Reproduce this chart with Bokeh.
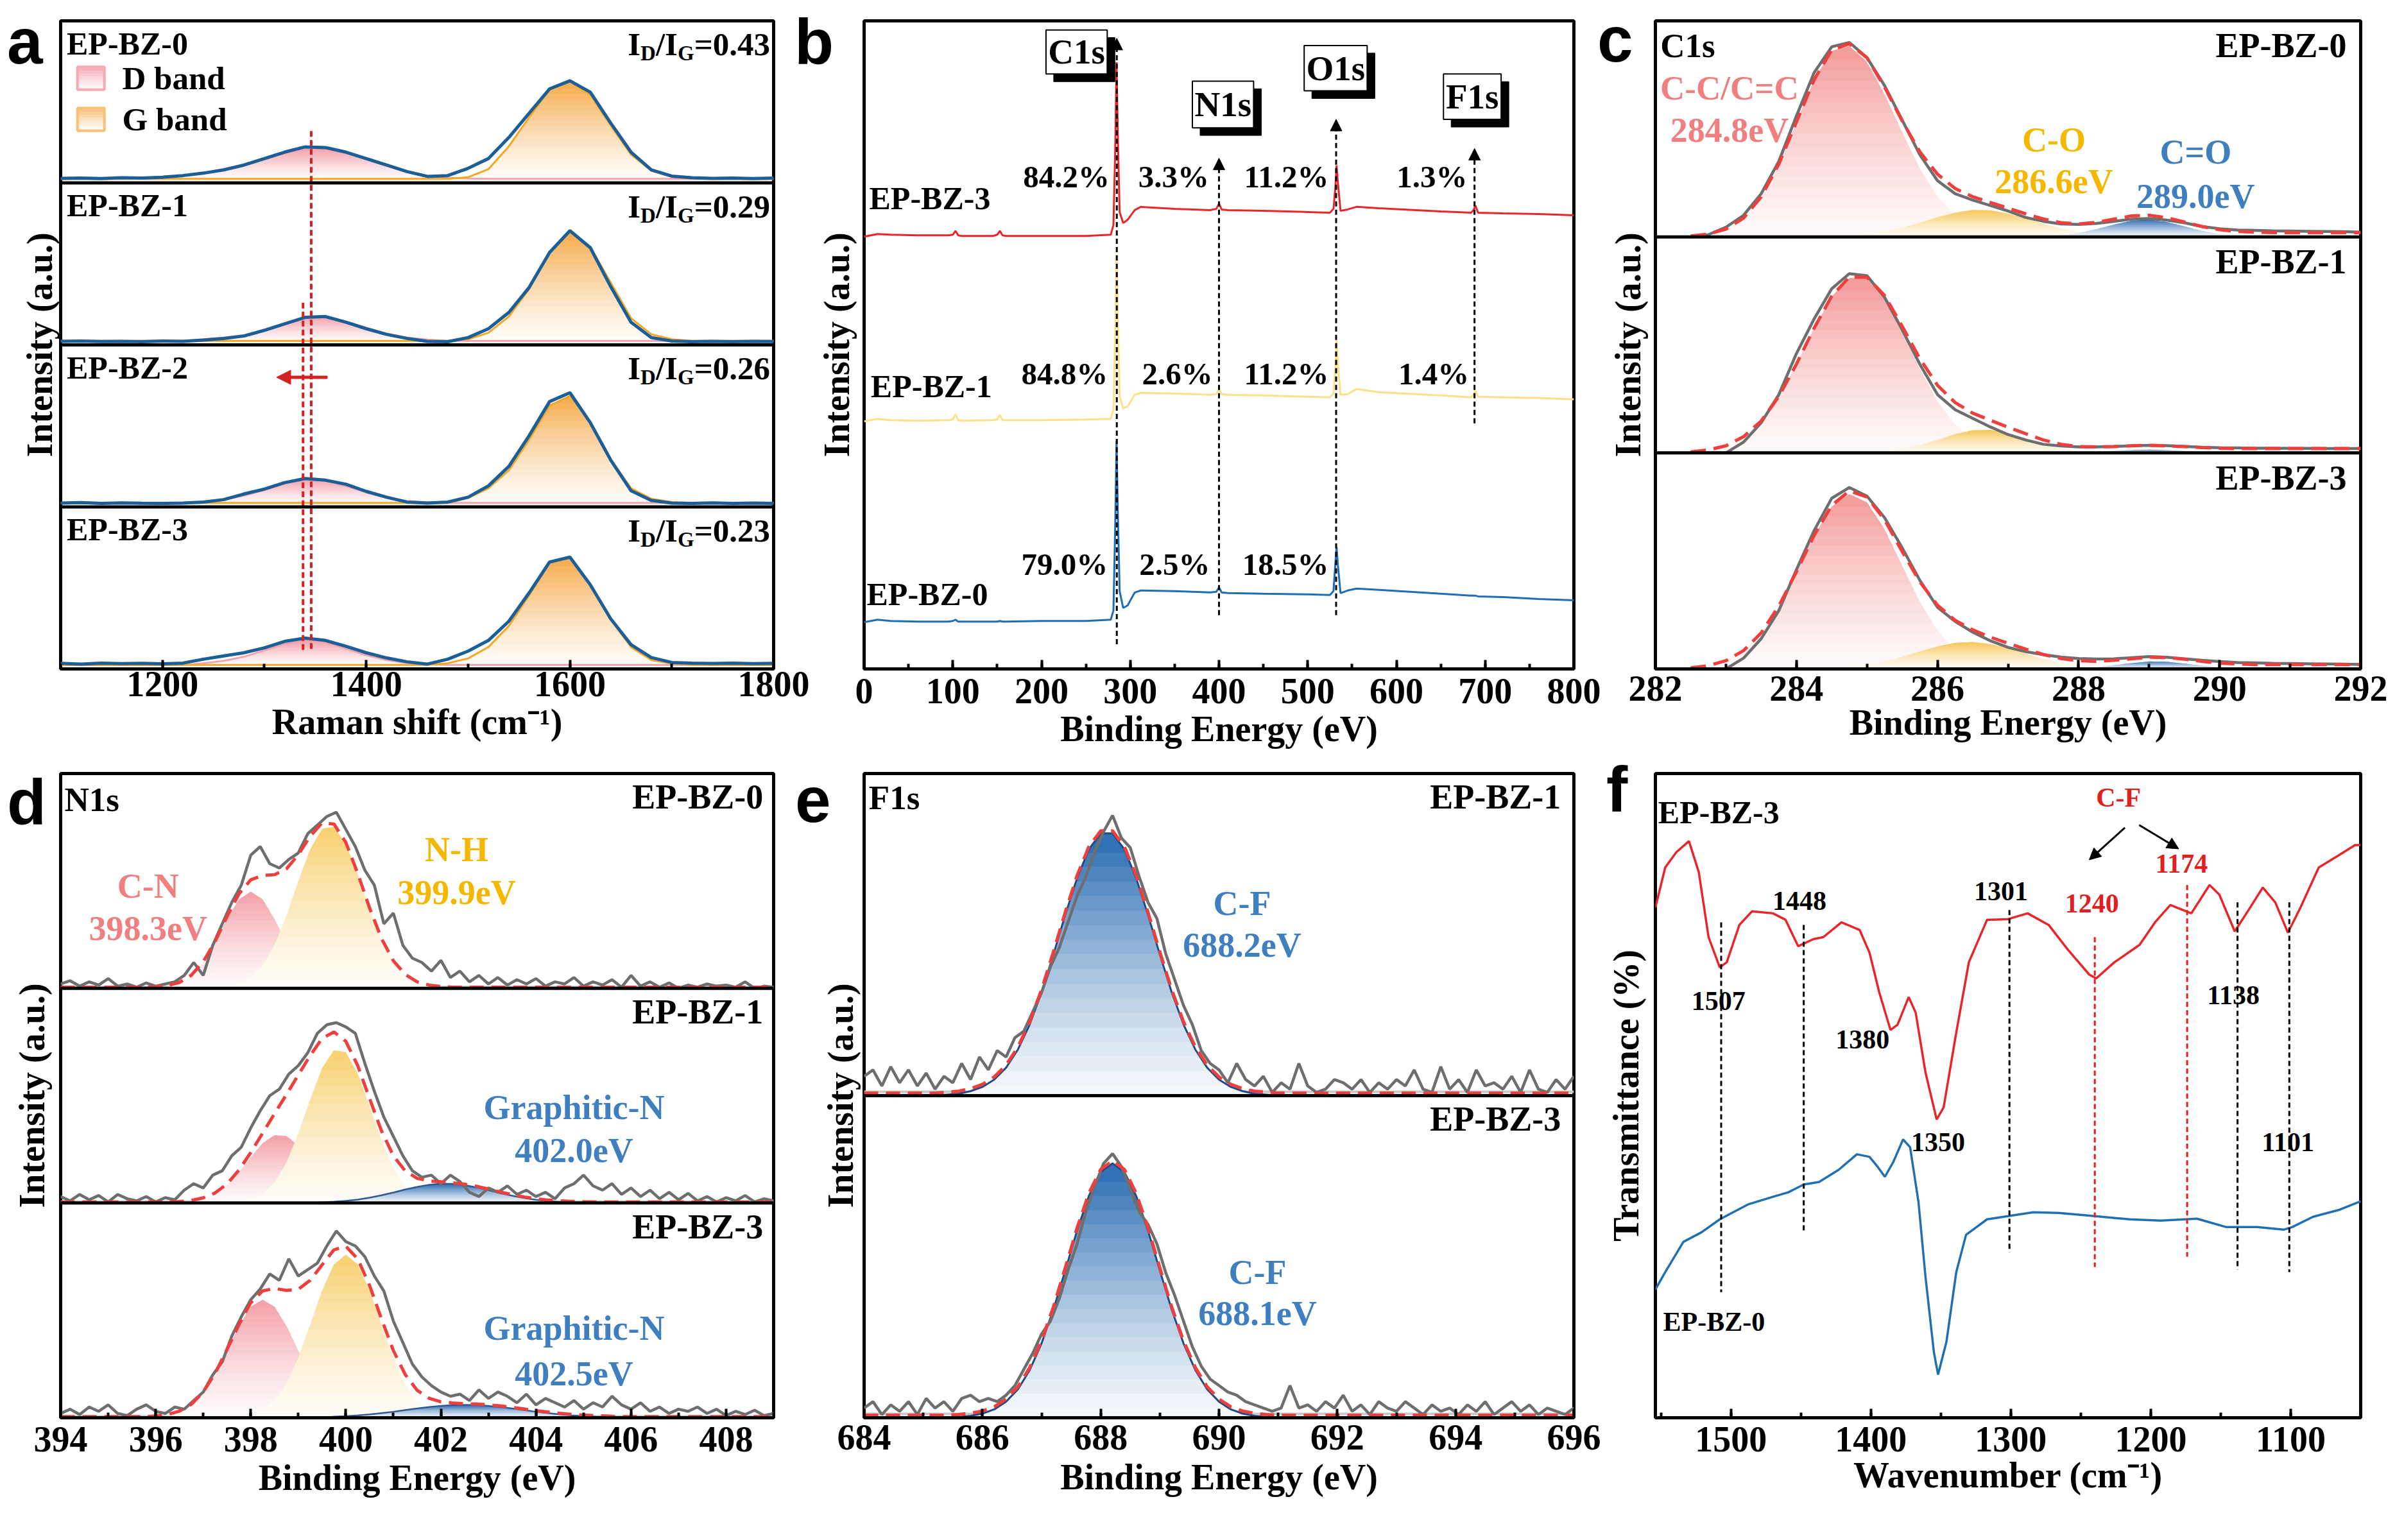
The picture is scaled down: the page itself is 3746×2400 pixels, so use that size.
import numpy as np
from bokeh.plotting import figure
from bokeh.models import (Range1d, Label, Arrow, NormalHead, Div, GridBox,
                          SingleIntervalTicker, FixedTicker, Span)
from bokeh.embed import file_html
from bokeh.resources import INLINE

SERIF = "Liberation Serif"
SANS = "Liberation Sans"

# ======================= DATA =======================
# (a) Raman spectra, each normalised to its stacked sub-panel (0..1)
RA_X = list(range(1100, 1801, 20))
RA_NAMES = ["EP-BZ-0", "EP-BZ-1", "EP-BZ-2", "EP-BZ-3"]
RA_RATIO = [0.43, 0.29, 0.26, 0.23]
RA_OBS0 = [0.028, 0.030, 0.027, 0.032, 0.030, 0.035, 0.045, 0.060, 0.080, 0.110,
           0.150, 0.190, 0.222, 0.218, 0.190, 0.150, 0.110, 0.070, 0.040, 0.045,
           0.090, 0.150, 0.280, 0.430, 0.580, 0.630, 0.560, 0.370, 0.190, 0.080,
           0.042, 0.032, 0.028, 0.030, 0.027, 0.030]
RA_D0 = [0, 0, 0, 0.002, 0.005, 0.010, 0.020, 0.035, 0.055, 0.085, 0.120, 0.160, 0.190,
         0.185, 0.160, 0.120, 0.080, 0.045, 0.020, 0.008, 0.002] + [0] * 15
RA_G0 = [0] * 20 + [0.010, 0.060, 0.200, 0.380, 0.550, 0.600, 0.520, 0.330, 0.150, 0.050,
                    0.012, 0.003] + [0] * 4
RA_OBS1 = [0.022, 0.024, 0.021, 0.022, 0.020, 0.024, 0.022, 0.030, 0.040, 0.055,
           0.090, 0.130, 0.170, 0.175, 0.140, 0.100, 0.065, 0.040, 0.022, 0.020,
           0.045, 0.100, 0.200, 0.355, 0.570, 0.705, 0.600, 0.360, 0.140, 0.045,
           0.024, 0.020, 0.022, 0.020, 0.022, 0.021]
RA_D1 = [0] * 7 + [0.010, 0.020, 0.035, 0.065, 0.105, 0.145, 0.150, 0.120, 0.080, 0.045,
                   0.020, 0.008] + [0] * 17
RA_G1 = [0] * 20 + [0.010, 0.050, 0.150, 0.320, 0.550, 0.670, 0.580, 0.360, 0.140, 0.040,
                    0.010] + [0] * 5
RA_OBS2 = [0.024, 0.027, 0.022, 0.025, 0.023, 0.022, 0.024, 0.030, 0.045, 0.080,
           0.110, 0.150, 0.175, 0.165, 0.140, 0.096, 0.060, 0.030, 0.024, 0.030,
           0.060, 0.130, 0.250, 0.440, 0.650, 0.705, 0.520, 0.290, 0.100, 0.040,
           0.024, 0.022, 0.025, 0.022, 0.024, 0.022]
RA_D2 = [0] * 7 + [0.008, 0.020, 0.045, 0.080, 0.120, 0.145, 0.135, 0.105, 0.065, 0.032,
                   0.012, 0.004] + [0] * 17
RA_G2 = [0] * 20 + [0.030, 0.090, 0.200, 0.390, 0.600, 0.660, 0.500, 0.270, 0.090, 0.025,
                    0.005] + [0] * 5
RA_OBS3 = [0.035, 0.030, 0.036, 0.033, 0.035, 0.032, 0.036, 0.060, 0.080, 0.100,
           0.130, 0.170, 0.190, 0.176, 0.140, 0.100, 0.068, 0.044, 0.030, 0.060,
           0.110, 0.176, 0.294, 0.470, 0.660, 0.690, 0.520, 0.310, 0.150, 0.070,
           0.040, 0.036, 0.034, 0.036, 0.033, 0.035]
RA_D3 = [0] * 7 + [0.010, 0.025, 0.050, 0.090, 0.130, 0.150, 0.140, 0.100, 0.060, 0.030,
                   0.012, 0.004] + [0] * 17
RA_G3 = [0] * 19 + [0.010, 0.040, 0.110, 0.240, 0.430, 0.630, 0.660, 0.490, 0.280, 0.110,
                    0.030, 0.008] + [0] * 5

# (b) XPS survey (frame height = 100)
SV_X = [0, 15, 30, 60, 95, 100, 103, 106, 110, 145, 150, 153, 156, 160, 200, 250, 278, 281,
        283, 284.5, 286, 288, 292, 297, 305, 312, 350, 390, 397, 400, 403, 410, 450, 500,
        525, 529, 531, 532.5, 534, 537, 545, 555, 580, 650, 684, 687, 689, 692, 720, 760, 800]
SV_BZ3 = [66.7, 67.1, 67.0, 66.9, 66.9, 67.0, 67.6, 66.9, 66.8, 66.8,
          67.0, 67.6, 66.9, 66.8, 66.8, 66.8, 67.0, 68.5, 80.0, 93.6,
          82.0, 70.5, 68.8, 69.3, 70.8, 71.3, 71.0, 70.8, 71.0, 71.8,
          70.9, 70.8, 70.7, 70.5, 70.4, 71.0, 74.0, 77.7, 75.0, 70.7,
          70.9, 71.3, 71.1, 70.6, 70.4, 70.8, 71.5, 70.4, 70.3, 70.2, 70.0]
SV_BZ1 = [38.2, 38.6, 38.4, 38.3, 38.4, 38.5, 39.3, 38.4, 38.3, 38.4,
          38.5, 39.2, 38.4, 38.4, 38.4, 38.5, 38.6, 40.0, 52.0, 63.9,
          54.0, 42.0, 40.2, 40.5, 42.3, 42.6, 42.5, 42.3, 42.4, 43.2,
          42.4, 42.3, 42.2, 42.0, 41.9, 42.5, 46.0, 50.8, 47.0, 42.3,
          42.4, 43.2, 42.7, 42.2, 41.9, 42.3, 42.9, 42.0, 41.9, 41.8, 41.6]
SV_BZ0 = [7.2, 7.6, 7.4, 7.3, 7.3, 7.4, 7.6, 7.3, 7.3, 7.3,
          7.3, 7.4, 7.3, 7.3, 7.4, 7.4, 7.6, 9.0, 22.0, 35.2,
          24.0, 12.0, 9.4, 9.8, 11.8, 12.1, 12.0, 11.8, 11.9, 12.6,
          11.8, 11.7, 11.6, 11.5, 11.4, 12.0, 16.0, 18.8, 16.0, 11.7,
          12.1, 12.4, 12.2, 11.6, 11.3, 11.3, 11.3, 11.2, 11.1, 10.8, 10.6]
SV_PEAK_NAMES = ["C1s", "N1s", "O1s", "F1s"]
SV_PEAK_POS = [284.8, 400, 532, 688]
SV_PCT_BZ3 = [84.2, 3.3, 11.2, 1.3]
SV_PCT_BZ1 = [84.8, 2.6, 11.2, 1.4]
SV_PCT_BZ0 = [79.0, 2.5, 18.5]

# (c) C1s high resolution (sub-panel normalised)
C_X = [282.5 + 0.25 * i for i in range(39)]
C_BG = [0] * 8 + [0.002, 0.004, 0.006, 0.008, 0.010, 0.012, 0.014, 0.015, 0.016, 0.017,
                  0.018, 0.019] + [0.02] * 19
C_OBS0 = [0.0, 0.01, 0.045, 0.10, 0.20, 0.35, 0.56, 0.76, 0.88, 0.90,
          0.83, 0.70, 0.54, 0.38, 0.26, 0.20, 0.17, 0.145, 0.12, 0.09,
          0.072, 0.06, 0.058, 0.062, 0.072, 0.082, 0.085, 0.078, 0.065, 0.048,
          0.038, 0.032, 0.030, 0.028, 0.027, 0.026, 0.025, 0.024, 0.022]
C_CC0 = [0.004, 0.013, 0.036, 0.087, 0.185, 0.337, 0.532, 0.727, 0.861, 0.884, 0.81, 0.66,
         0.483, 0.316, 0.185, 0.097, 0.045, 0.019, 0.007, 0.002] + [0] * 19
C_CO0 = [0] * 8 + [0.002, 0.006, 0.013, 0.025, 0.043, 0.066, 0.091, 0.112, 0.125, 0.123,
                   0.108, 0.086, 0.061, 0.039, 0.022, 0.011, 0.005, 0.002] + [0] * 13
C_CDO0 = [0] * 20 + [0.002, 0.007, 0.018, 0.036, 0.057, 0.075, 0.080, 0.069, 0.049, 0.028,
                     0.013, 0.005, 0.002] + [0] * 6
C_OBS1 = [0, 0, 0, 0.05, 0.14, 0.27, 0.46, 0.62, 0.76, 0.83,
          0.82, 0.72, 0.57, 0.41, 0.27, 0.20, 0.16, 0.12, 0.085, 0.06,
          0.04, 0.032, 0.028, 0.028, 0.030, 0.033, 0.035, 0.034, 0.030, 0.026,
          0.024, 0.023, 0.022, 0.022, 0.021, 0.021, 0.020, 0.020, 0.020]
C_CC1 = [0.005, 0.014, 0.033, 0.075, 0.148, 0.261, 0.411, 0.577, 0.724, 0.81, 0.807, 0.714,
         0.559, 0.389, 0.239, 0.131, 0.063, 0.027, 0.010, 0.004] + [0] * 19
C_CO1 = [0] * 11 + [0.007, 0.017, 0.035, 0.060, 0.087, 0.105, 0.107, 0.091, 0.066, 0.040,
                    0.020, 0.009, 0.003] + [0] * 15
C_CDO1 = [0] * 23 + [0.005, 0.009, 0.013, 0.015, 0.013, 0.009, 0.005, 0.002] + [0] * 8
C_OBS3 = [0, 0, 0, 0.05, 0.14, 0.27, 0.46, 0.64, 0.79, 0.84,
          0.80, 0.70, 0.56, 0.41, 0.285, 0.22, 0.17, 0.13, 0.10, 0.08,
          0.066, 0.055, 0.048, 0.046, 0.047, 0.052, 0.057, 0.054, 0.047, 0.040,
          0.034, 0.030, 0.028, 0.026, 0.025, 0.024, 0.023, 0.022, 0.021]
C_CC3 = [0.005, 0.015, 0.038, 0.085, 0.167, 0.291, 0.45, 0.618, 0.751, 0.81, 0.771, 0.647,
         0.477, 0.31, 0.177, 0.089, 0.04, 0.015, 0.005, 0.002] + [0] * 19
C_CO3 = [0] * 8 + [0.004, 0.010, 0.019, 0.035, 0.056, 0.081, 0.104, 0.121, 0.125, 0.115,
                   0.096, 0.071, 0.047, 0.028, 0.015, 0.007, 0.003] + [0] * 14
C_CDO3 = [0] * 22 + [0.003, 0.008, 0.017, 0.027, 0.034, 0.033, 0.025, 0.015, 0.007,
                     0.003] + [0] * 7

# (d) N1s high resolution
N_X = [394 + 0.25 * i for i in range(61)]
N_CN0 = [0] * 8 + [0.002, 0.008, 0.022, 0.056, 0.119, 0.213, 0.322, 0.414, 0.45, 0.414,
                   0.322, 0.213, 0.119, 0.056, 0.022, 0.008, 0.002] + [0] * 36
N_NH0 = [0] * 14 + [0.007, 0.02, 0.05, 0.107, 0.202, 0.338, 0.498, 0.647, 0.743, 0.752,
                    0.672, 0.53, 0.369, 0.227, 0.123, 0.059, 0.025, 0.01, 0.003] + [0] * 28
N_CN1 = [0] * 10 + [0.002, 0.007, 0.019, 0.042, 0.083, 0.143, 0.214, 0.279, 0.316, 0.312,
                    0.268, 0.2, 0.13, 0.074, 0.036, 0.016, 0.006, 0.002] + [0] * 33
N_NH1 = [0] * 15 + [0.005, 0.016, 0.042, 0.095, 0.188, 0.323, 0.482, 0.628, 0.712, 0.702,
                    0.603, 0.45, 0.293, 0.166, 0.081, 0.035, 0.013, 0.004] + [0] * 28
N_GN1 = [0] * 22 + [0.003, 0.006, 0.01, 0.016, 0.025, 0.036, 0.049, 0.063, 0.075, 0.085,
                    0.09, 0.089, 0.083, 0.073, 0.06, 0.046, 0.034, 0.023, 0.015, 0.009,
                    0.005, 0.003, 0.001] + [0] * 16
N_CN3 = [0] * 8 + [0.003, 0.01, 0.026, 0.058, 0.115, 0.202, 0.313, 0.428, 0.517, 0.55,
                   0.517, 0.428, 0.313, 0.202, 0.115, 0.058, 0.026, 0.01, 0.003] + [0] * 34
N_NH3 = [0] * 16 + [0.014, 0.036, 0.08, 0.16, 0.28, 0.433, 0.592, 0.714, 0.76, 0.714,
                    0.592, 0.433, 0.28, 0.16, 0.08, 0.036, 0.014, 0.005] + [0] * 27
N_GN3 = [0] * 23 + [0.005, 0.0075, 0.011, 0.016, 0.022, 0.028, 0.036, 0.043, 0.05, 0.055,
                    0.059, 0.06, 0.059, 0.055, 0.05, 0.043, 0.036, 0.028, 0.022, 0.016,
                    0.011, 0.0075, 0.005, 0.003] + [0] * 14
N_OBS0 = [0.02, 0.035, 0.01, 0.03, 0.015, 0.045, 0.01, 0.02, 0.005, 0.025,
          0.01, 0.02, 0.03, 0.06, 0.12, 0.06, 0.2, 0.3, 0.4, 0.48,
          0.62, 0.66, 0.58, 0.56, 0.6, 0.63, 0.72, 0.76, 0.8, 0.82,
          0.74, 0.66, 0.55, 0.48, 0.3, 0.35, 0.2, 0.14, 0.12, 0.08,
          0.13, 0.05, 0.08, 0.03, 0.06, 0.02, 0.05, 0.015, 0.04, 0.02,
          0.045, 0.01, 0.03, 0.02, 0.05, 0.01, 0.03, 0.015, 0.04, 0.005,
          0.06, 0.01, 0.03, 0.005, 0.025, 0.0, 0.015, 0.005, 0.02, 0.01,
          0.015, 0.005, 0.03, 0.0, 0.01, 0.005]
N_OBS1 = [0.03, 0.01, 0.04, 0.015, 0.035, 0.005, 0.04, 0.02, 0.01, 0.03,
          0.005, 0.025, 0.015, 0.06, 0.09, 0.07, 0.13, 0.15, 0.22, 0.26,
          0.35, 0.43, 0.5, 0.53, 0.6, 0.64, 0.7, 0.79, 0.83, 0.84,
          0.82, 0.79, 0.65, 0.52, 0.4, 0.31, 0.22, 0.15, 0.12, 0.13,
          0.09, 0.13, 0.1, 0.05, 0.03, 0.07, 0.05, 0.08, 0.04, 0.06,
          0.03, 0.05, 0.02, 0.07, 0.09, 0.13, 0.08, 0.06, 0.09, 0.04,
          0.07, 0.03, 0.06, 0.02, 0.05, 0.015, 0.045, 0.01, 0.03, 0.005,
          0.025, 0.01, 0.035, 0.005, 0.02, 0.01]
N_OBS3 = [0.02, 0.04, 0.015, 0.05, 0.03, 0.06, 0.02, 0.01, 0.04, 0.06,
          0.03, 0.02, 0.05, 0.04, 0.08, 0.12, 0.2, 0.26, 0.38, 0.47,
          0.55, 0.6, 0.67, 0.64, 0.74, 0.66, 0.69, 0.72, 0.8, 0.87,
          0.82, 0.8, 0.75, 0.66, 0.59, 0.45, 0.35, 0.25, 0.19, 0.15,
          0.12, 0.1, 0.11, 0.08, 0.13, 0.09, 0.12, 0.1, 0.07, 0.11,
          0.06, 0.09, 0.07, 0.05, 0.08, 0.04, 0.07, 0.05, 0.1, 0.06,
          0.04, 0.07, 0.03, 0.05, 0.02, 0.04, 0.03, 0.05, 0.02, 0.04,
          0.01, 0.03, 0.015, 0.035, 0.01, 0.02]

# (e) F1s high resolution
F_X = [684 + 0.2 * i for i in range(61)]
F_CF1 = [0] * 7 + [0.003, 0.006, 0.014, 0.027, 0.05, 0.087, 0.143, 0.221, 0.321, 0.438,
                   0.561, 0.675, 0.765, 0.814, 0.814, 0.765, 0.675, 0.561, 0.438, 0.321,
                   0.221, 0.143, 0.087, 0.05, 0.027, 0.014, 0.006, 0.003] + [0] * 26
F_CF3 = [0] * 8 + [0.002, 0.006, 0.013, 0.026, 0.05, 0.088, 0.148, 0.231, 0.336, 0.457,
                   0.581, 0.689, 0.763, 0.79, 0.763, 0.689, 0.581, 0.457, 0.336, 0.231,
                   0.148, 0.088, 0.05, 0.026, 0.013, 0.006, 0.002] + [0] * 26
F_OBS1 = [0.06, 0.08, 0.03, 0.09, 0.04, 0.08, 0.03, 0.07, 0.02, 0.06,
          0.04, 0.1, 0.05, 0.12, 0.08, 0.14, 0.12, 0.18, 0.2, 0.26,
          0.32, 0.4, 0.46, 0.54, 0.62, 0.68, 0.76, 0.82, 0.87, 0.8,
          0.77, 0.68, 0.6, 0.55, 0.44, 0.36, 0.28, 0.22, 0.14, 0.1,
          0.08, 0.04, 0.1, 0.05, 0.03, 0.06, 0.01, 0.04, 0.02, 0.1,
          0.03, 0.01, 0.02, 0.05, 0.04, 0.02, 0.05, 0.01, 0.04, 0.02,
          0.05, 0.03, 0.08, 0.02, 0.01, 0.09, 0.02, 0.05, 0.01, 0.08,
          0.03, 0.04, 0.02, 0.06, 0.01, 0.08, 0.02, 0.01, 0.05, 0.02,
          0.06]
F_OBS3 = [0.03, 0.05, 0.01, 0.04, 0.02, 0.05, 0.01, 0.06, 0.03, 0.05,
          0.02, 0.06, 0.07, 0.05, 0.06, 0.05, 0.07, 0.1, 0.15, 0.2,
          0.26, 0.3, 0.37, 0.46, 0.54, 0.64, 0.72, 0.79, 0.82, 0.78,
          0.71, 0.64, 0.6, 0.54, 0.45, 0.38, 0.3, 0.22, 0.16, 0.12,
          0.1, 0.08, 0.07, 0.05, 0.04, 0.03, 0.02, 0.03, 0.1, 0.03,
          0.04, 0.02, 0.05, 0.03, 0.07, 0.02, 0.04, 0.01, 0.05, 0.03,
          0.02, 0.05, 0.03, 0.01, 0.04, 0.02, 0.03, 0.01, 0.04, 0.02,
          0.05, 0.01, 0.03, 0.05, 0.02, 0.04, 0.01, 0.03, 0.02, 0.01,
          0.03]

# (f) FTIR (frame height = 100)
FT_X3 = [1554, 1547, 1539, 1530, 1523, 1516, 1508, 1503, 1494, 1485, 1470, 1461, 1452, 1441,
         1434, 1421, 1408, 1401, 1394, 1386, 1381, 1373, 1368, 1361, 1353, 1348, 1339, 1330,
         1317, 1302, 1288, 1273, 1259, 1244, 1239, 1226, 1208, 1197, 1186, 1178, 1171, 1158,
         1151, 1140, 1129, 1120, 1111, 1102, 1093, 1080, 1065, 1054, 1050]
FT_Y3 = [79.2, 85.4, 87.8, 89.5, 84.7, 74.6, 69.9, 70.7, 76.5, 78.6, 78.3, 77.3, 73.2, 74.3,
         74.6, 76.9, 75.7, 72.2, 66.0, 60.2, 61.0, 65.3, 62.9, 53.6, 46.3, 48.2, 59.8, 70.7,
         77.3, 77.4, 78.3, 76.5, 72.6, 68.8, 68.2, 70.7, 73.4, 76.9, 79.6, 78.9, 78.3, 82.7,
         81.2, 75.5, 79.2, 82.3, 80.0, 75.3, 79.2, 85.4, 87.4, 88.9, 88.9]
FT_X0 = [1554, 1547, 1534, 1521, 1508, 1488, 1470, 1459, 1448, 1437, 1423, 1410, 1401, 1395,
         1390, 1384, 1377, 1372, 1366, 1361, 1355, 1352, 1346, 1339, 1332, 1317, 1302, 1284,
         1266, 1240, 1215, 1193, 1167, 1146, 1124, 1105, 1099, 1084, 1065, 1050]
FT_Y0 = [19.9, 22.6, 27.3, 28.8, 30.8, 33.1, 34.3, 35.0, 36.2, 36.6, 38.5, 40.9, 40.5, 38.9,
         37.4, 39.7, 43.2, 42.0, 33.5, 21.9, 10.2, 6.7, 11.8, 22.6, 28.4, 30.8, 31.3, 31.9,
         31.8, 31.3, 30.8, 30.6, 30.9, 29.6, 29.6, 29.2, 29.6, 31.2, 32.3, 33.6]
FT_PEAKS = [1507, 1448, 1301, 1240, 1174, 1138, 1101]
FT_CF_PEAKS = [1240, 1174]

PANEL_LETTERS = ["a", "b", "c", "d", "e", "f"]


# ======================= HELPERS =======================
def fit_len(a, n):
    a = [float(v) for v in a][:n]
    return np.array(a + [0.0] * (n - len(a)))


def shade(hexc, t):
    r, g, b = int(hexc[1:3], 16), int(hexc[3:5], 16), int(hexc[5:7], 16)
    k = 0.04 + 0.96 * (t ** 1.3)
    return "#%02x%02x%02x" % tuple(int(round(255 + (c - 255) * k)) for c in (r, g, b))


def grad_fill(p, x, comp, off, color, n=18):
    """vertical white->colour gradient under a component, drawn as stacked clipped bands"""
    x = np.asarray(x, dtype=float)
    c = np.asarray(comp, dtype=float)
    h = float(c.max())
    if h <= 0:
        return
    xf = np.linspace(x.min(), x.max(), len(x) * 16)   # same polyline, finer vertices
    cf = np.interp(xf, x, c)
    st = h / n
    for j in range(n):
        lo = max(0.0, st * j - 0.3 * st)
        hi = st * (j + 1)
        y2 = np.clip(cf, lo, hi)
        p.varea(x=xf, y1=np.full(len(xf), off + lo), y2=off + y2,
                fill_color=shade(color, (j + 0.5) / n), fill_alpha=1.0)


def make_fig(xr, yr, W, H, bl, br, bt, bb):
    p = figure(width=W, height=H, x_range=Range1d(xr[0], xr[1]), y_range=Range1d(yr[0], yr[1]),
               output_backend="svg", toolbar_location=None, tools="",
               min_border_left=bl, min_border_right=br, min_border_top=bt, min_border_bottom=bb)
    p.grid.visible = False
    p.outline_line_color = "black"
    p.outline_line_width = 5
    p.outline_line_alpha = 1.0
    p.background_fill_color = "white"
    p.border_fill_color = "white"
    return p


def style_axes(p, interval, xlabel, ylabel, tick_so, xlab_so, ylab_so):
    xa = p.xaxis[0]
    xa.ticker = SingleIntervalTicker(interval=interval, num_minor_ticks=2)
    xa.axis_line_width = 5
    xa.axis_line_color = "black"
    xa.major_tick_in = 14
    xa.major_tick_out = 0
    xa.minor_tick_in = 8
    xa.minor_tick_out = 0
    xa.major_tick_line_width = 4
    xa.minor_tick_line_width = 4
    xa.major_tick_line_color = "black"
    xa.minor_tick_line_color = "black"
    xa.major_label_text_font = SERIF
    xa.major_label_text_font_style = "bold"
    xa.major_label_text_font_size = "56px"
    xa.major_label_text_color = "black"
    xa.major_label_standoff = tick_so
    xa.axis_label = xlabel
    xa.axis_label_text_font = SERIF
    xa.axis_label_text_font_style = "bold"
    xa.axis_label_text_font_size = "56px"
    xa.axis_label_text_color = "black"
    xa.axis_label_standoff = xlab_so
    ya = p.yaxis[0]
    ya.ticker = FixedTicker(ticks=[])
    ya.axis_line_color = None
    ya.major_tick_line_color = None
    ya.minor_tick_line_color = None
    ya.major_tick_out = 0
    ya.minor_tick_out = 0
    ya.major_label_standoff = 0
    ya.axis_label = ylabel
    ya.axis_label_text_font = SERIF
    ya.axis_label_text_font_style = "bold"
    ya.axis_label_text_font_size = "56px"
    ya.axis_label_text_color = "black"
    ya.axis_label_standoff = ylab_so


def txt(p, x, y, s, size, color="black", align="left", font=SERIF, baseline="middle", xo=0, yo=0):
    p.add_layout(Label(x=x, y=y, text=s, text_font=font, text_font_style="bold",
                       text_font_size="%dpx" % size, text_color=color, text_align=align,
                       text_baseline=baseline, x_offset=xo, y_offset=yo))


TW = {"I": 0.389, "D": 0.722, "G": 0.778, "/": 0.278, "=": 0.570, ".": 0.25}


def tw(s, size):
    return sum(TW.get(ch, 0.5) for ch in s) * size


def id_ig(p, x, y, val, size=51):
    sub = int(size * 0.66)
    pieces = [("=%.2f" % val, size, 0), ("G", sub, -14), ("/I", size, 0), ("D", sub, -14),
              ("I", size, 0)]
    xo = 0.0
    for s, sz, yo in pieces:
        txt(p, x, y, s, sz, align="right", xo=xo, yo=yo)
        xo -= tw(s, sz)


def seps(p, locs):
    for s in locs:
        p.add_layout(Span(location=s, dimension="width", line_color="black", line_width=5))


PINK_T, YEL_T, BLUE_T = "#f08080", "#f5b800", "#3f7fc0"
GRAY = "#6e6e6e"
FITRED = "#ee3f3f"

# ======================= (a) Raman =======================
A_XR, A_YR = (1100, 1800), (0, 4)
pa = make_fig(A_XR, A_YR, 1268, 1192, 86, 63, 32, 133)
style_axes(pa, 200, "Raman shift (cm\u207b\u00b9)", "Intensity (a.u.)", 4, 6, 2)
BASE = 0.025
nA = len(RA_X)
ra_obs = [RA_OBS0, RA_OBS1, RA_OBS2, RA_OBS3]
ra_d = [RA_D0, RA_D1, RA_D2, RA_D3]
ra_g = [RA_G0, RA_G1, RA_G2, RA_G3]
for k in range(4):
    off = 3 - k
    d = fit_len(ra_d[k], nA)
    g = fit_len(ra_g[k], nA)
    grad_fill(pa, RA_X, d, off + BASE, "#f3a0aa")
    grad_fill(pa, RA_X, g, off + BASE, "#f6ac4e")
    pa.line(RA_X, off + BASE + d, line_color="#f4a3ad", line_width=3)
    pa.line(RA_X, off + BASE + g, line_color="#f5a623", line_width=3)
    pa.line(RA_X, off + np.array(ra_obs[k]), line_color="#1b5e98", line_width=5)
    txt(pa, 1106, off + 0.86, RA_NAMES[k], 50)
    id_ig(pa, 1796.5, off + 0.855, RA_RATIO[k])
seps(pa, [1, 2, 3])
pa.segment(x0=[1346, 1338], y0=[3.32, 2.26], x1=[1346, 1338], y1=[0.118, 0.118],
           line_color="#d42020", line_width=4, line_dash="9 5")
pa.add_layout(Arrow(end=NormalHead(size=22, fill_color="#d42020", line_color="#d42020"),
                    x_start=1362, y_start=1.8, x_end=1312, y_end=1.8,
                    line_color="#d42020", line_width=5))
for (lab, ytop, ybot, ymid, c_line) in [("D band", 3.716, 3.575, 3.645, "#f7aab4"),
                                        ("G band", 3.462, 3.322, 3.392, "#f9c07a")]:
    grad_fill(pa, [1116.5, 1143.0], [ytop - ybot, ytop - ybot], ybot, c_line, n=8)
    pa.quad(left=[1116.5], right=[1143.0], top=[ytop], bottom=[ybot], fill_alpha=0,
            line_color=c_line, line_width=4)
    txt(pa, 1160.5, ymid, lab, 51)

# ======================= (b) survey =======================
B_XR, B_YR = (0, 800), (0, 100)
pb = make_fig(B_XR, B_YR, 1230, 1192, 78, 46, 32, 146)
style_axes(pb, 100, "Binding Energy (eV)", "Intensity (a.u.)", 15, 6, 12)
pb.line(SV_X, SV_BZ3, line_color="#e8262a", line_width=3)
pb.line(SV_X, SV_BZ1, line_color="#ffe08a", line_width=3)
pb.line(SV_X, SV_BZ0, line_color="#1f6db5", line_width=3)
arrow_extent = [(3.8, 97.3), (8.3, 78.8), (8.3, 84.8), (37.9, 80.3)]
for xpk, (y0, y1) in zip(SV_PEAK_POS, arrow_extent):
    pb.add_layout(Arrow(end=NormalHead(size=18, fill_color="black", line_color="black"),
                        x_start=xpk, y_start=y0, x_end=xpk, y_end=y1,
                        line_color="black", line_width=3, line_dash="8 5"))
box_l = [205, 370, 496, 653]
box_r = [274, 439, 567, 718]
box_b = [91.8, 83.5, 89.2, 84.8]
box_t = [98.6, 90.7, 96.2, 91.8]
dx, dy = 12 / 1106 * 800, 12 / 1014 * 100
pb.quad(left=[v + dx for v in box_l], right=[v + dx for v in box_r],
        bottom=[v - dy for v in box_b], top=[v - dy for v in box_t],
        fill_color="black", line_color="black")
pb.quad(left=box_l, right=box_r, bottom=box_b, top=box_t, fill_color="white",
        line_color="black", line_width=2)
for name, x0, x1, y0, y1 in zip(SV_PEAK_NAMES, box_l, box_r, box_b, box_t):
    txt(pb, (x0 + x1) / 2, (y0 + y1) / 2, name, 55, align="center")
for vals, xs, yv in [(SV_PCT_BZ3, [228, 349, 476, 640], 75.9),
                     (SV_PCT_BZ1, [226, 353, 476, 642], 45.5),
                     (SV_PCT_BZ0, [226, 350, 475], 16.1)]:
    for v, xx in zip(vals, xs):
        txt(pb, xx, yv, "%.1f%%" % v, 49, align="center")
txt(pb, 5.8, 72.6, "EP-BZ-3", 50)
txt(pb, 7.5, 43.6, "EP-BZ-1", 50)
txt(pb, 2.9, 11.5, "EP-BZ-0", 50)

# ======================= (c) C1s =======================
C_XR, C_YR = (282, 292), (0, 3)
pc = make_fig(C_XR, C_YR, 1232, 1192, 78, 52, 32, 150)
style_axes(pc, 2, "Binding Energy (eV)", "Intensity (a.u.)", 11, 0, 12)
nC = len(C_X)
bg = fit_len(C_BG, nC)
c_sets = [(2, C_OBS0, C_CC0, C_CO0, C_CDO0, "EP-BZ-0"),
          (1, C_OBS1, C_CC1, C_CO1, C_CDO1, "EP-BZ-1"),
          (0, C_OBS3, C_CC3, C_CO3, C_CDO3, "EP-BZ-3")]
for off, obs, cc, co, cdo, name in c_sets:
    cc, co, cdo = fit_len(cc, nC), fit_len(co, nC), fit_len(cdo, nC)
    grad_fill(pc, C_X, cc, off, "#f49a9a")
    grad_fill(pc, C_X, co, off, "#f7c85a")
    grad_fill(pc, C_X, cdo, off, "#2f6eb3")
    pc.line(C_X, off + np.array(obs, dtype=float), line_color=GRAY, line_width=4.5)
    pc.line(C_X, off + cc + co + cdo + bg, line_color=FITRED, line_width=5, line_dash="24 12")
    txt(pc, 291.8, off + 0.885, name, 54, align="right")
seps(pc, [1, 2])
txt(pc, 282.07, 2.885, "C1s", 53)
txt(pc, 283.05, 2.69, "C-C/C=C", 53, color=PINK_T, align="center")
txt(pc, 283.05, 2.495, "284.8eV", 54, color=PINK_T, align="center")
txt(pc, 287.65, 2.45, "C-O", 54, color=YEL_T, align="center")
txt(pc, 287.65, 2.257, "286.6eV", 54, color=YEL_T, align="center")
txt(pc, 289.66, 2.393, "C=O", 54, color=BLUE_T, align="center")
txt(pc, 289.66, 2.189, "289.0eV", 54, color=BLUE_T, align="center")

# ======================= (d) N1s =======================
D_XR, D_YR = (394, 409), (0, 3)
pd_ = make_fig(D_XR, D_YR, 1268, 1192, 94, 59, 13, 160)
style_axes(pd_, 2, "Binding Energy (eV)", "Intensity (a.u.)", 14, 7, 14)
nN = len(N_X)
d_sets = [(2, N_OBS0, N_CN0, N_NH0, None, "EP-BZ-0"),
          (1, N_OBS1, N_CN1, N_NH1, N_GN1, "EP-BZ-1"),
          (0, N_OBS3, N_CN3, N_NH3, N_GN3, "EP-BZ-3")]
for off, obs, cn, nh, gn, name in d_sets:
    cn, nh = fit_len(cn, nN), fit_len(nh, nN)
    gn = fit_len(gn if gn is not None else [], nN)
    pd_.line(N_X, np.full(nN, off + 0.006), line_color="#c8c8c8", line_width=4)
    grad_fill(pd_, N_X, cn, off, "#f4a0a8")
    grad_fill(pd_, N_X, nh, off, "#f8d070")
    if gn.max() > 0:
        grad_fill(pd_, N_X, gn, off, "#2f6db0")
        pd_.line(N_X, off + gn, line_color="#2d5a94", line_width=2.5)
    ox = np.linspace(D_XR[0], D_XR[1], len(obs))
    pd_.line(ox, off + np.array(obs, dtype=float), line_color=GRAY, line_width=4.5)
    pd_.line(N_X, off + cn + nh + gn + 0.005, line_color=FITRED, line_width=5, line_dash="22 12")
    txt(pd_, 408.78, off + 0.89, name, 54, align="right")
seps(pd_, [1, 2])
txt(pd_, 394.08, 2.879, "N1s", 53)
txt(pd_, 395.84, 2.475, "C-N", 54, color=PINK_T, align="center")
txt(pd_, 395.84, 2.279, "398.3eV", 54, color=PINK_T, align="center")
txt(pd_, 402.33, 2.646, "N-H", 54, color=YEL_T, align="center")
txt(pd_, 402.33, 2.445, "399.9eV", 54, color=YEL_T, align="center")
txt(pd_, 404.8, 1.444, "Graphitic-N", 54, color=BLUE_T, align="center")
txt(pd_, 404.8, 1.246, "402.0eV", 54, color=BLUE_T, align="center")
txt(pd_, 404.8, 0.416, "Graphitic-N", 54, color=BLUE_T, align="center")
txt(pd_, 404.8, 0.206, "402.5eV", 54, color=BLUE_T, align="center")

# ======================= (e) F1s =======================
E_XR, E_YR = (684, 696), (0, 2)
pe = make_fig(E_XR, E_YR, 1230, 1192, 72, 42, 13, 159)
style_axes(pe, 2, "Binding Energy (eV)", "Intensity (a.u.)", 11, 9, 6)
nF = len(F_X)
e_sets = [(1, F_OBS1, F_CF1, "EP-BZ-1", "688.2eV", (690.39, 0.597, 0.467)),
          (0, F_OBS3, F_CF3, "EP-BZ-3", "688.1eV", (690.65, 0.452, 0.323))]
for off, obs, cf, name, ev, (tx, ty1, ty2) in e_sets:
    cf = fit_len(cf, nF)
    pe.line(F_X, np.full(nF, off + 0.012), line_color="#c8c8c8", line_width=4)
    grad_fill(pe, F_X, cf, off, "#2a6cb2")
    pe.line(F_X, off + cf, line_color="#1e4b86", line_width=3)
    ox = np.linspace(E_XR[0], E_XR[1], len(obs))
    pe.line(ox, off + np.array(obs, dtype=float), line_color=GRAY, line_width=4.5)
    pe.line(F_X, off + cf + 0.008, line_color=FITRED, line_width=5, line_dash="22 12")
    txt(pe, 695.78, off + 0.928, name, 54, align="right")
    txt(pe, tx, off + ty1, "C-F", 54, color=BLUE_T, align="center")
    txt(pe, tx, off + ty2, ev, 54, color=BLUE_T, align="center")
seps(pe, [1])
txt(pe, 684.08, 1.926, "F1s", 53)

# ======================= (f) FTIR =======================
F_XR, F_YR = (1554, 1050), (0, 100)
pf = make_fig(F_XR, F_YR, 1232, 1192, 81, 52, 13, 175)
style_axes(pf, 100, "Wavenumber (cm\u207b\u00b9)", "Transmittance (%)", 14, 3, 15)
pf.line(FT_X3, FT_Y3, line_color="#e8262a", line_width=3.5)
pf.line(FT_X0, FT_Y0, line_color="#1f6fb2", line_width=3.5)
guide_extent = {1507: (76.9, 19.5), 1448: (76.5, 28.8), 1301: (78.8, 25.7),
                1240: (74.6, 23.4), 1174: (82.7, 25.0), 1138: (80.0, 23.0), 1101: (80.0, 22.6)}
for pk in FT_PEAKS:
    top, bot = guide_extent[pk]
    col = "#e02020" if pk in FT_CF_PEAKS else "black"
    pf.segment(x0=[pk], y0=[top], x1=[pk], y1=[bot], line_color=col, line_width=3,
               line_dash="8 5")
num_pos = [("1507", 1509, 64.7, "black"), ("1448", 1451, 80.2, "black"),
           ("1380", 1406, 58.7, "black"), ("1350", 1352, 42.8, "black"),
           ("1301", 1307, 81.7, "black"), ("1240", 1242, 79.8, "#e02020"),
           ("1174", 1178, 86.0, "#e02020"), ("1138", 1141, 65.6, "black"),
           ("1101", 1102, 42.8, "black")]
for s, xx, yy, col in num_pos:
    txt(pf, xx, yy, s, 42, color=col, align="center")
txt(pf, 1223, 96.3, "C-F", 42, color="#e02020", align="center")
pf.add_layout(Arrow(end=NormalHead(size=18, fill_color="black", line_color="black"),
                    x_start=1218.5, y_start=91.6, x_end=1244, y_end=86.6,
                    line_color="black", line_width=3))
pf.add_layout(Arrow(end=NormalHead(size=18, fill_color="black", line_color="black"),
                    x_start=1208.3, y_start=92.0, x_end=1180, y_end=88.3,
                    line_color="black", line_width=3))
txt(pf, 1552, 94.0, "EP-BZ-3", 50)
txt(pf, 1548.5, 14.9, "EP-BZ-0", 42)

# ======================= layout: 2x3 grid + panel letters overlaid =======================
children = [(pa, 0, 0), (pb, 0, 1), (pc, 0, 2), (pd_, 1, 0), (pe, 1, 1), (pf, 1, 2)]
letter_margins = [(14, 11), (15, 1238), (11, 2489), (1200, 11), (1196, 1239), (1180, 2503)]
for s, (mt, ml) in zip(PANEL_LETTERS, letter_margins):
    html = ('<div style="font-family:\'Liberation Sans\',Arial,sans-serif;font-weight:bold;'
            'font-size:100px;line-height:100px;color:#000;margin:0;padding:0;">%s</div>' % s)
    children.append((Div(text=html, width=80, height=110, margin=(mt, 0, 0, ml)), 0, 0, 2, 3))
layout = GridBox(children=children, spacing=0)
open("out.html", "w").write(file_html(layout, INLINE, "EP-BZ characterisation"))
